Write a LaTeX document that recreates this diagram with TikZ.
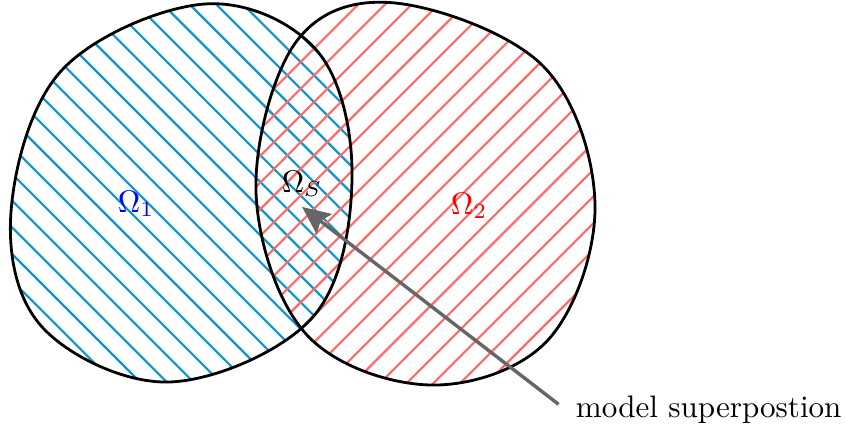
\documentclass[tikz,border=0pt]{standalone}
\usepackage{amsmath}
\usepackage{xcolor}
\definecolor{hatchblue}{HTML}{0E96CB}
\definecolor{hatchred}{HTML}{FF6B6B}
\definecolor{arrgray}{HTML}{666666}
\usepackage{tikz}
\usetikzlibrary{arrows.meta}

\begin{document}
\begin{tikzpicture}[x=0.3217pt,y=-0.3217pt,
  outline/.style={draw=black,line width=0.9pt},
  hatchA/.style={draw=hatchblue,line width=0.7pt},
  hatchB/.style={draw=hatchred,line width=0.7pt},
  lbl/.style={inner sep=3pt},
  arr/.style={-{Stealth[length=9pt,width=8pt,inset=1.5pt]},draw=arrgray,line width=1.1pt}]
\useasboundingbox (0,0) rectangle (845,428);
\path[save path=\blobA] plot[smooth cycle,tension=0.6] coordinates {(205,4) (318,52) (352,180) (312,318) (170,382) (43,328) (11,212) (62,70)};
\path[save path=\blobB] plot[smooth cycle,tension=0.6] coordinates {(395,3) (543,66) (595,205) (548,340) (430,385) (306,334) (256,192) (296,42)};
% hatching
\begin{scope}
  \clip[use path=\blobA];
  \foreach \k in {-15,...,13} \draw[hatchA] ({15+26.7*\k},-10) -- ++(440,440);
\end{scope}
\begin{scope}
  \clip[use path=\blobB];
  \foreach \k in {8,...,37} \draw[hatchB] ({25.6+26.7*\k},-10) -- ++(-440,440);
\end{scope}
\draw[outline,use path=\blobA];
\draw[outline,use path=\blobB];
\node[lbl,text=blue] (om1) at (136,204) {$\Omega_1$};
\node[lbl,text=red] (om2) at (469,206) {$\Omega_2$};
\node[lbl] (omS) at (302,184) {$\Omega_S$};
\node[lbl,anchor=west] (note) at (566,410) {model superpostion};
\draw[arr,shorten <=3pt] (note.west) -- (omS.south);
\end{tikzpicture}
\end{document}
